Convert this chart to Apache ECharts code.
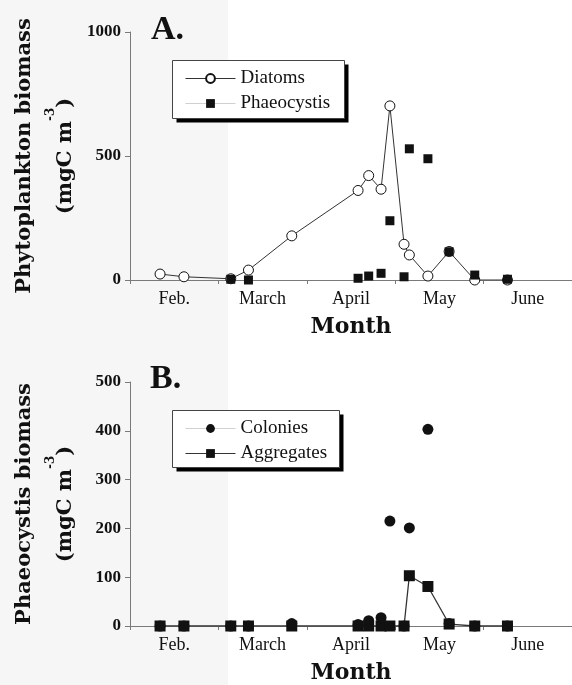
<!DOCTYPE html>
<html>
<head>
<meta charset="utf-8">
<script src="https://cdn.jsdelivr.net/npm/echarts@6/dist/echarts.min.js"></script>
<style>
  html, body { margin: 0; padding: 0; background: #fff; }
  #chart { width: 572px; height: 685px; }
</style>
</head>
<body>
<div id="chart"></div>
<script>
// sampling dates, in months from 1 Feb (0 = start of Feb, 1 = start of March ...)
const months = ["Feb.", "March", "April", "May", "June"];
const dates = [0.34, 0.61, 1.14, 1.34, 1.83, 2.58, 2.70, 2.84, 2.94, 3.10, 3.16, 3.37, 3.61, 3.90, 4.27];

// panel A: phytoplankton biomass (mgC m-3)
const diatoms = [24, 13, 5, 40, 178, 361, 421, 366, 702, 144, 101, 16, 115, 0, 0];
const phaeocystis = [null, null, 3, 0, null, 7, 16, 27, 239, 13, 529, 489, 114, 20, 3];

// panel B: phaeocystis biomass (mgC m-3)
const colonies = [0, 0, 0, 0, 5, 3, 11, 17, 215, 0, 201, 403, 5, 0, 0];
const aggregates = [0, 0, 0, 0, 0, 0, 0, 0, 0, 0, 103, 81, 4, 0, 0];

const yTicksA = [0, 500, 1000];
const yTicksB = [0, 100, 200, 300, 400, 500];

function pairs(vals) {
  return dates.map((d, i) => [d, vals[i]]).filter(p => p[1] != null);
}

const serif = '"Liberation Serif", "Times New Roman", serif';
const titleFont = '"DejaVu Serif", serif';
const axisGray = "#7a7a7a";

function xAxis(gridIndex) {
  return {
    type: "value", gridIndex, min: 0, max: months.length,
    name: "Month", nameLocation: "middle", nameGap: 36,
    nameTextStyle: { fontFamily: titleFont, fontWeight: "bold", fontSize: 22, color: "#111" },
    axisLine: { lineStyle: { color: axisGray } },
    axisTick: { length: 4, lineStyle: { color: axisGray }, customValues: months.map((m, i) => i).concat([months.length]) },
    axisLabel: {
      margin: 10, fontFamily: serif, fontSize: 18, color: "#111",
      customValues: months.map((m, i) => i + 0.5),
      formatter: v => months[Math.floor(v)]
    },
    splitLine: { show: false }
  };
}

function yAxis(gridIndex, ticks, title) {
  return {
    type: "value", gridIndex, min: ticks[0], max: ticks[ticks.length - 1], interval: ticks[1] - ticks[0],
    name: "{a|" + title + "}\n{a|(mgC m}{s|-3}{a|)}",
    nameLocation: "middle", nameRotate: 90, nameGap: 44,
    nameTextStyle: {
      rich: {
        a: { fontFamily: titleFont, fontWeight: "bold", fontSize: 21, lineHeight: 41, color: "#111" },
        s: { fontFamily: titleFont, fontWeight: "bold", fontSize: 12, lineHeight: 41, verticalAlign: "top", color: "#111" }
      }
    },
    axisLine: { show: true, lineStyle: { color: axisGray } },
    axisTick: { show: true, length: 5, lineStyle: { color: axisGray } },
    axisLabel: { margin: 9, fontFamily: serif, fontWeight: "bold", fontSize: 17, color: "#111", formatter: v => String(v) },
    splitLine: { show: false }
  };
}

// legend items sit on a drawn box with a hard black drop shadow
function legend(names, top) {
  return {
    data: names, orient: "vertical", left: 172, top, z: 8,
    padding: [9, 12, 5, 13], itemGap: 6, itemWidth: 50, itemHeight: 11,
    lineStyle: { width: 1 },
    textStyle: { fontFamily: serif, fontSize: 19, color: "#111" }
  };
}

function legendBox(x, y, w, h) {
  return [
    { type: "rect", z: 6, shape: { x: x + 4, y: y + 4, width: w, height: h }, style: { fill: "#000" } },
    { type: "rect", z: 7, shape: { x, y, width: w, height: h }, style: { fill: "#fff", stroke: "#444", lineWidth: 1 } }
  ];
}

const faint = { color: "#d0d0d0", opacity: 1, width: 1 };

const chart = echarts.init(document.getElementById("chart"));
chart.setOption({
  animation: false,
  backgroundColor: "#fff",
  graphic: [
    { type: "rect", z: -10, shape: { x: 0, y: 0, width: 228, height: 685 }, style: { fill: "#f6f6f6" } },
    { type: "text", left: 151, top: 13, style: { text: "A.", font: 'bold 34px "Liberation Serif"', fill: "#111" } },
    { type: "text", left: 150, top: 362, style: { text: "B.", font: 'bold 34px "Liberation Serif"', fill: "#111" } }
  ].concat(legendBox(172.5, 60.5, 172, 58), legendBox(172.5, 410.5, 167, 57)),
  grid: [
    { left: 130, right: -7, top: 32, height: 248 },
    { left: 130, right: -7, top: 382, height: 246 }
  ],
  xAxis: [xAxis(0), xAxis(1)],
  yAxis: [yAxis(0, yTicksA, "Phytoplankton biomass"), yAxis(1, yTicksB, "Phaeocystis biomass")],
  legend: [
    legend(["Diatoms", { name: "Phaeocystis", lineStyle: faint }], 60),
    legend([{ name: "Colonies", lineStyle: faint }, "Aggregates"], 410)
  ],
  series: [
    {
      name: "Diatoms", type: "line", xAxisIndex: 0, yAxisIndex: 0, data: pairs(diatoms),
      symbol: "circle", symbolSize: 10, z: 3,
      lineStyle: { color: "#333", width: 1 },
      itemStyle: { color: "#fff", borderColor: "#111", borderWidth: 1 }
    },
    {
      name: "Phaeocystis", type: "line", xAxisIndex: 0, yAxisIndex: 0, data: pairs(phaeocystis),
      symbol: "rect", symbolSize: 9, z: 4,
      lineStyle: { color: "#d0d0d0", width: 1, opacity: 0 },
      itemStyle: { color: "#111" }
    },
    {
      name: "Aggregates", type: "line", xAxisIndex: 1, yAxisIndex: 1, data: pairs(aggregates),
      symbol: "rect", symbolSize: 11, z: 3,
      lineStyle: { color: "#333", width: 1.3 },
      itemStyle: { color: "#111" }
    },
    {
      name: "Colonies", type: "line", xAxisIndex: 1, yAxisIndex: 1, data: pairs(colonies),
      symbol: "circle", symbolSize: 11, z: 4,
      lineStyle: { color: "#d0d0d0", width: 1, opacity: 0 },
      itemStyle: { color: "#111" }
    }
  ]
});
</script>
</body>
</html>
